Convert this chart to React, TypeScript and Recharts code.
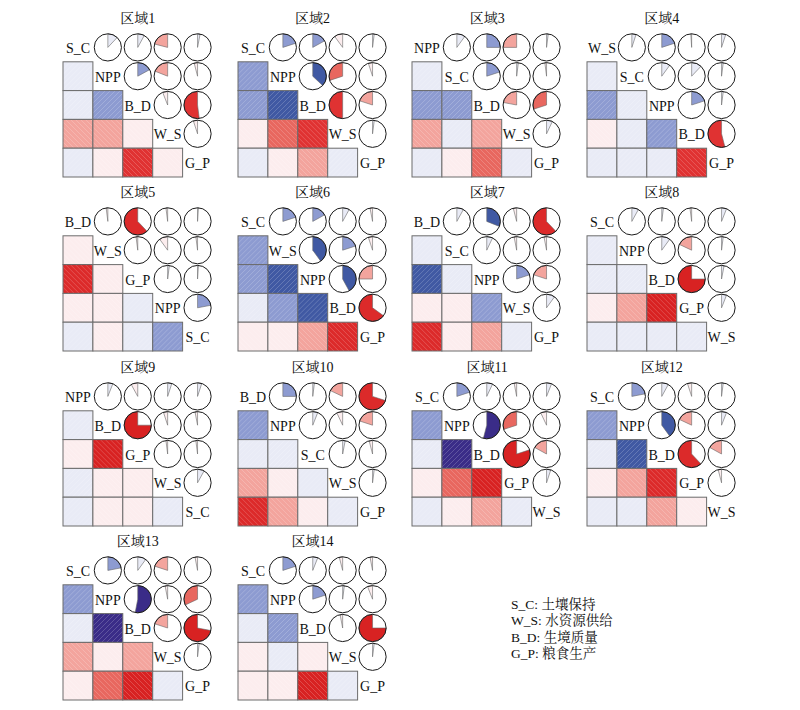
import React from 'react'
import { ScatterChart, Scatter, XAxis, YAxis } from 'recharts'

const titles = ['区域1', '区域2', '区域3', '区域4', '区域5', '区域6', '区域7', '区域8', '区域9', '区域10', '区域11', '区域12', '区域13', '区域14']

const varOrders = [
  ['S_C', 'NPP', 'B_D', 'W_S', 'G_P'],
  ['S_C', 'NPP', 'B_D', 'W_S', 'G_P'],
  ['NPP', 'S_C', 'B_D', 'W_S', 'G_P'],
  ['W_S', 'S_C', 'NPP', 'B_D', 'G_P'],
  ['B_D', 'W_S', 'G_P', 'NPP', 'S_C'],
  ['S_C', 'W_S', 'NPP', 'B_D', 'G_P'],
  ['B_D', 'S_C', 'NPP', 'W_S', 'G_P'],
  ['S_C', 'NPP', 'B_D', 'G_P', 'W_S'],
  ['NPP', 'B_D', 'G_P', 'W_S', 'S_C'],
  ['B_D', 'NPP', 'S_C', 'W_S', 'G_P'],
  ['S_C', 'NPP', 'B_D', 'G_P', 'W_S'],
  ['S_C', 'NPP', 'B_D', 'G_P', 'W_S'],
  ['S_C', 'NPP', 'B_D', 'W_S', 'G_P'],
  ['S_C', 'NPP', 'B_D', 'W_S', 'G_P'],
]

// upper triangle pairs in the order 01 02 03 04 12 13 14 23 24 34
const corrValues = [
  [0.12, 0.08, -0.21, 0.03, 0.17, -0.19, -0.04, -0.06, -0.52, -0.05],
  [0.2, 0.17, -0.1, 0.02, 0.37, -0.3, -0.05, -0.5, -0.2, 0.02],
  [0.1, 0.25, -0.25, 0.02, 0.2, 0.02, -0.02, -0.22, -0.3, 0.07],
  [0.05, 0.2, -0.01, 0.05, 0.1, 0.12, 0.02, 0.2, 0.02, -0.54],
  [-0.02, -0.62, -0.02, 0.01, -0.02, -0.1, -0.02, 0.02, 0.01, 0.22],
  [0.2, 0.17, 0.08, -0.03, 0.4, 0.2, -0.05, 0.42, -0.25, -0.65],
  [0.08, 0.31, -0.04, -0.62, 0.07, -0.03, -0.03, 0.2, -0.2, 0.1],
  [0.08, 0.02, -0.02, 0.06, 0.1, -0.18, 0.02, -0.75, 0.03, 0.06],
  [0.06, -0.08, 0.05, 0.05, -0.75, -0.05, -0.03, -0.02, -0.02, 0.08],
  [0.25, 0.02, -0.18, -0.7, 0.06, -0.07, -0.2, 0.03, -0.04, 0.02],
  [0.2, 0.07, -0.03, 0.06, 0.54, -0.3, -0.07, -0.8, -0.17, 0.05],
  [0.22, 0.08, -0.05, 0.02, 0.4, -0.18, 0.06, -0.62, -0.17, -0.04],
  [0.22, 0.1, -0.2, -0.03, 0.53, -0.03, -0.32, -0.2, -0.72, 0.02],
  [0.2, 0.06, -0.04, -0.03, 0.2, 0.02, -0.06, -0.03, -0.75, 0.02],
]

const legendCodes = ['S_C', 'W_S', 'B_D', 'G_P']
const legendNames = ['土壤保持', '水资源供给', '生境质量', '粮食生产']

const palette = [
  '#D41C1C', '#D82222', '#DC2A2A', '#E03232', '#E8675F', '#F3A49D', '#FCEDEE',
  '#E9EBF6', '#8D9BD1', '#4059A3', '#3A2C88', '#30207C', '#281A70', '#201466',
]
const colorOf = (r: number) => palette[Math.min(13, Math.max(0, Math.floor((r + 1) * 7)))]

const FONT = '"Liberation Serif", "Noto Serif CJK SC", "Noto Sans CJK SC", serif'
const PW = 149.5
const PH = 144
const CW = PW / 5
const CH = PH / 5
const R = 13.6
const M = 5

const pairIdx = (i: number, j: number) => {
  const a = Math.min(i, j), b = Math.max(i, j)
  return [0, 4, 7, 9][a] + (b - a - 1)
}

function buildPanel(p: number) {
  const vars = varOrders[p]
  const rs = corrValues[p]
  const cells: any[] = [], pies: any[] = [], labels: any[] = []
  for (let i = 0; i < 5; i++) {
    for (let j = 0; j < 5; j++) {
      const pt = { x: j + 0.5, y: i + 0.5 }
      if (i === j) labels.push({ ...pt, name: vars[i] })
      else if (i > j) cells.push({ ...pt, r: rs[pairIdx(i, j)] })
      else pies.push({ ...pt, r: rs[pairIdx(i, j)] })
    }
  }
  return { cells, pies, labels }
}

const CellShape = (props: any) => {
  const { cx, cy, payload } = props
  const r = payload.r
  const x0 = cx - CW / 2, y0 = cy - CH / 2
  const step = 5
  const lines = []
  for (let t = -CH + step / 2; t < CW; t += step) {
    const u0 = Math.max(t, 0), v0 = CH - (u0 - t)
    const u1 = Math.min(t + CH, CW), v1 = CH - (u1 - t)
    const a = r > 0 ? u0 : CW - u0
    const b = r > 0 ? u1 : CW - u1
    lines.push(<line key={t} x1={x0 + a} y1={y0 + v0} x2={x0 + b} y2={y0 + v1} stroke="#ffffff" strokeOpacity={0.28} strokeWidth={0.7} />)
  }
  return (
    <g>
      <rect x={x0} y={y0} width={CW} height={CH} fill={colorOf(r)} />
      {lines}
      <rect x={x0} y={y0} width={CW} height={CH} fill="none" stroke="#6c6c6c" strokeWidth={1} />
    </g>
  )
}

const PieShape = (props: any) => {
  const { cx, cy, payload } = props
  const r = payload.r
  let wedge = null
  if (Math.round(50 * Math.abs(r)) > 0) {
    const a0 = -Math.PI / 2
    const a1 = a0 + 2 * Math.PI * r
    const sx = cx + R * Math.cos(a0), sy = cy + R * Math.sin(a0)
    const ex = cx + R * Math.cos(a1), ey = cy + R * Math.sin(a1)
    const d = `M${cx},${cy} L${sx},${sy} A${R},${R} 0 ${Math.abs(r) > 0.5 ? 1 : 0} ${r > 0 ? 1 : 0} ${ex},${ey} Z`
    wedge = <path d={d} fill={colorOf(r)} stroke="#666" strokeWidth={0.6} />
  }
  return (
    <g>
      {wedge}
      <circle cx={cx} cy={cy} r={R} fill="none" stroke="#1a1a1a" strokeWidth={1} />
    </g>
  )
}

const LabelShape = (props: any) => {
  const { cx, cy, payload } = props
  return (
    <text x={cx} y={cy + 1} textAnchor="middle" dominantBaseline="central" fontSize={14} fontFamily={FONT} fill="#111">
      {payload.name}
    </text>
  )
}

function Panel({ p }: { p: number }) {
  const col = p % 4, row = Math.floor(p / 4)
  const x0 = 63 + 174.7 * col
  const y0 = 33 + 174.4 * row
  const { cells, pies, labels } = buildPanel(p)
  return (
    <>
      <div style={{ position: 'absolute', left: x0, top: y0 - 22, width: PW, textAlign: 'center', fontFamily: FONT, fontSize: 14, lineHeight: '16px', color: '#111' }}>
        {titles[p]}
      </div>
      <div style={{ position: 'absolute', left: x0 - M, top: y0 - M }}>
        <ScatterChart width={PW + 2 * M} height={PH + 2 * M} margin={{ top: M, right: M, bottom: M, left: M }}>
          <XAxis type="number" dataKey="x" domain={[0, 5]} hide />
          <YAxis type="number" dataKey="y" domain={[0, 5]} reversed hide />
          <Scatter data={cells} shape={CellShape} isAnimationActive={false} />
          <Scatter data={pies} shape={PieShape} isAnimationActive={false} />
          <Scatter data={labels} shape={LabelShape} isAnimationActive={false} />
        </ScatterChart>
      </div>
    </>
  )
}

export default function App() {
  return (
    <div style={{ position: 'absolute', left: 0, top: 0, width: 800, height: 710, background: '#fff' }}>
      {titles.map((_, p) => <Panel key={p} p={p} />)}
      {legendCodes.map((c, i) => (
        <div key={c} style={{ position: 'absolute', left: 511, top: 597 + i * 16.3, fontFamily: FONT, fontSize: 13.5, lineHeight: '16px', color: '#111', whiteSpace: 'nowrap' }}>
          {c}: {legendNames[i]}
        </div>
      ))}
    </div>
  )
}
